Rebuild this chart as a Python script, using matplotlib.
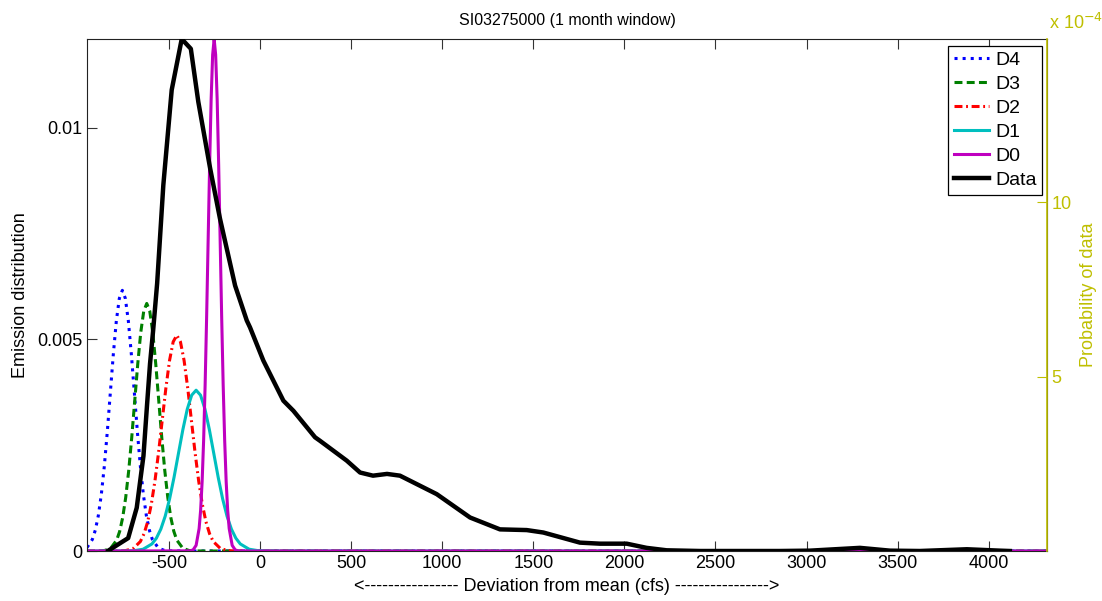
import matplotlib
matplotlib.use("Agg")
import matplotlib.pyplot as plt

plt.rcParams['font.family'] = ['Liberation Sans', 'DejaVu Sans']

# ---------------- data ----------------
d4_x = [-950, -921, -904.5, -888, -871.5, -855, -838.5, -822, -805.5, -789, -772.5, -756,
        -739.5, -723, -706.5, -690, -673.5, -657, -640.5, -624, -607.5, -591, -558, -525, -492, -400, 4320]
d4_y = [0.000082, 0.00027, 0.00049, 0.000833, 0.001332, 0.002000, 0.002820, 0.003736, 0.004650, 0.005436, 0.005970, 0.00616,
        0.005970, 0.005436, 0.004650, 0.003736, 0.002820, 0.002000, 0.001332, 0.000833, 0.00049, 0.00027, 0.0000684, 0.0000136, 0.000002, 0, 0]

d3_x = [-950, -886, -853, -820, -787, -770.5, -754, -737.5, -721, -704.5, -688, -671.5, -655, -638.5, -622,
        -605.5, -589, -572.5, -556, -539.5, -523, -506.5, -490, -473.5, -457, -424, -391, -358, -300, 4320]
d3_y = [0, 0.000002, 0.0000129, 0.0000649, 0.000257, 0.000466, 0.000792, 0.001265, 0.001900, 0.002678, 0.003548, 0.004416, 0.005163, 0.005670, 0.00585,
        0.005670, 0.005163, 0.004416, 0.003548, 0.002678, 0.001900, 0.001265, 0.000792, 0.000466, 0.000257, 0.0000649, 0.0000129, 0.000002, 0, 0]

d2_x = [-950, -777, -737, -697, -657, -637, -617, -597, -577, -557, -537, -517, -497, -477, -457,
        -437, -417, -397, -377, -357, -337, -317, -297, -277, -257, -217, -177, -137, -80, 4320]
d2_y = [0, 0.0000015, 0.0000112, 0.0000566, 0.000224, 0.000406, 0.000690, 0.001103, 0.001656, 0.002335, 0.003093, 0.003849, 0.004501, 0.004943, 0.00510,
        0.004943, 0.004501, 0.003849, 0.003093, 0.002335, 0.001656, 0.001103, 0.000690, 0.000406, 0.000224, 0.0000566, 0.0000112, 0.0000015, 0, 0]

d1_x = [-950, -739, -690.5, -642, -593.5, -569.25, -545, -520.75, -496.5, -472.25, -448, -423.75, -399.5, -375.25, -351,
        -326.75, -302.5, -278.25, -254, -229.75, -205.5, -181.25, -157, -132.75, -108.5, -60, -11.5, 37, 100, 4320]
d1_y = [0, 0.0000011, 0.0000084, 0.0000422, 0.000167, 0.000302, 0.000514, 0.000822, 0.001234, 0.001740, 0.002305, 0.002868, 0.003354, 0.003683, 0.0038,
        0.003683, 0.003354, 0.002868, 0.002305, 0.001740, 0.001234, 0.000822, 0.000514, 0.000302, 0.000167, 0.0000422, 0.0000084, 0.0000011, 0, 0]

d0_x = [-950, -384, -367.5, -351, -334.5, -326.25, -318, -309.75, -301.5, -293.25, -285, -276.75, -268.5, -260.25, -252,
        -243.75, -235.5, -227.25, -219, -210.75, -202.5, -194.25, -186, -177.75, -169.5, -153, -136.5, -120, -60, 4320]
d0_y = [0, 0.0000036, 0.0000266, 0.000134, 0.000531, 0.000963, 0.001637, 0.002617, 0.003929, 0.005539, 0.007339, 0.009133, 0.010678, 0.011727, 0.0121,
        0.011727, 0.010678, 0.009133, 0.007339, 0.005539, 0.003929, 0.002617, 0.001637, 0.000963, 0.000531, 0.000134, 0.0000266, 0.0000036, 0, 0]

data_x = [-833, -724, -677, -640, -620, -604, -587, -565, -531, -485, -430, -380, -339, -274, -220, -137,
          -73, -55, 18, 128, 183, 302, 329, 476, 549, 620, 697, 768, 970, 1153, 1317, 1464, 1555,
          1756, 1866, 2013, 2122, 2232, 2415, 2854, 3019, 3293, 3458, 3622, 3880, 4062, 4116]
data_y = [0.01, 0.37, 1.24, 2.73, 4.22, 5.37, 6.32, 7.67, 10.49, 13.22, 14.68, 14.40, 12.88, 10.97, 9.53, 7.61,
          6.61, 6.41, 5.46, 4.31, 4.02, 3.26, 3.16, 2.59, 2.25, 2.16, 2.21, 2.16, 1.63, 0.96, 0.62, 0.60, 0.53,
          0.24, 0.21, 0.21, 0.09, 0.02, 0.0, 0.0, 0.01, 0.09, 0.01, 0.0, 0.05, 0.01, 0.0]  # x 1e-4

x_ticks = [-500, 0, 500, 1000, 1500, 2000, 2500, 3000, 3500, 4000]
left_ticks = [0, 0.005, 0.01]
left_ticklabels = ['0', '0.005', '0.01']
right_ticks = [5, 10]          # x 1e-4
right_ticklabels = ['5', '10']

title = 'SI03275000 (1 month window)'
xlabel = '<---------------- Deviation from mean (cfs) ---------------->'
ylabel_left = 'Emission distribution'
ylabel_right = 'Probability of data'
# ---------------------------------------------------------------

YEL = (0.75, 0.75, 0.0)
TICKC = '#333333'
FS = 13

fig = plt.figure(figsize=(11.02, 6.01), dpi=100)
ax1 = fig.add_axes([87/1102, 50/601, 960/1102, 512/601])

lw = 2.2
l4, = ax1.plot(d4_x, d4_y, color=(0, 0, 1), lw=lw, linestyle=':', label='D4')
l3, = ax1.plot(d3_x, d3_y, color=(0, 0.5, 0), lw=lw, linestyle='--', dashes=(2.6, 1.4), label='D3')
l2, = ax1.plot(d2_x, d2_y, color=(1, 0, 0), lw=lw, linestyle='-.', dashes=(2.6, 1.2, 0.6, 1.2), label='D2')
l1, = ax1.plot(d1_x, d1_y, color=(0, 0.75, 0.75), lw=lw, label='D1')
l0, = ax1.plot(d0_x, d0_y, color=(0.75, 0, 0.75), lw=lw, label='D0')

ax1.set_xlim(-950, 4320)
ax1.set_ylim(0, 0.0121)
ax1.set_xticks(x_ticks)
ax1.set_xticklabels([str(v) for v in x_ticks])
ax1.set_yticks(left_ticks)
ax1.set_yticklabels(left_ticklabels)
ax1.tick_params(direction='in', top=True, right=True, length=7, width=0.8,
                color=TICKC, labelsize=FS, pad=3)
ax1.set_xlabel(xlabel, fontsize=FS, labelpad=4)
ax1.set_ylabel(ylabel_left, fontsize=FS, labelpad=6)
ax1.set_title(title, fontsize=11.5, pad=10)
for s in ax1.spines.values():
    s.set_linewidth(0.8)
    s.set_color('#222222')

ax2 = ax1.twinx()
ld, = ax2.plot(data_x, [v * 1e-4 for v in data_y], color='black', lw=3.2, label='Data')
ax2.set_ylim(0, 14.68e-4)
ax2.set_yticks([v * 1e-4 for v in right_ticks])
ax2.set_yticklabels(right_ticklabels)
ax2.tick_params(axis='y', direction='in', length=7, width=0.8, colors=YEL, labelsize=FS, pad=3)
ax2.spines['right'].set_color(YEL)
ax2.spines['right'].set_linewidth(1.2)
ax2.spines['left'].set_visible(False)
ax2.spines['top'].set_visible(False)
ax2.spines['bottom'].set_visible(False)
ax2.set_ylabel(ylabel_right, fontsize=FS, color=YEL, labelpad=6)
ax2.text(1.002, 1.012, r'x 10$^{-4}$', transform=ax2.transAxes, color=YEL,
         fontsize=FS, ha='left', va='bottom')

leg = ax2.legend(handles=[l4, l3, l2, l1, l0, ld], loc='upper right',
                 bbox_to_anchor=(1042.3/1102, 1 - 45.7/601), bbox_transform=fig.transFigure,
                 prop={'size': 14}, frameon=True, fancybox=False, framealpha=1,
                 edgecolor='black', handlelength=1.8, handletextpad=0.3,
                 labelspacing=0.33, borderpad=0.3, borderaxespad=0)
leg.get_frame().set_linewidth(0.9)

fig.savefig('out.png', dpi=100)
